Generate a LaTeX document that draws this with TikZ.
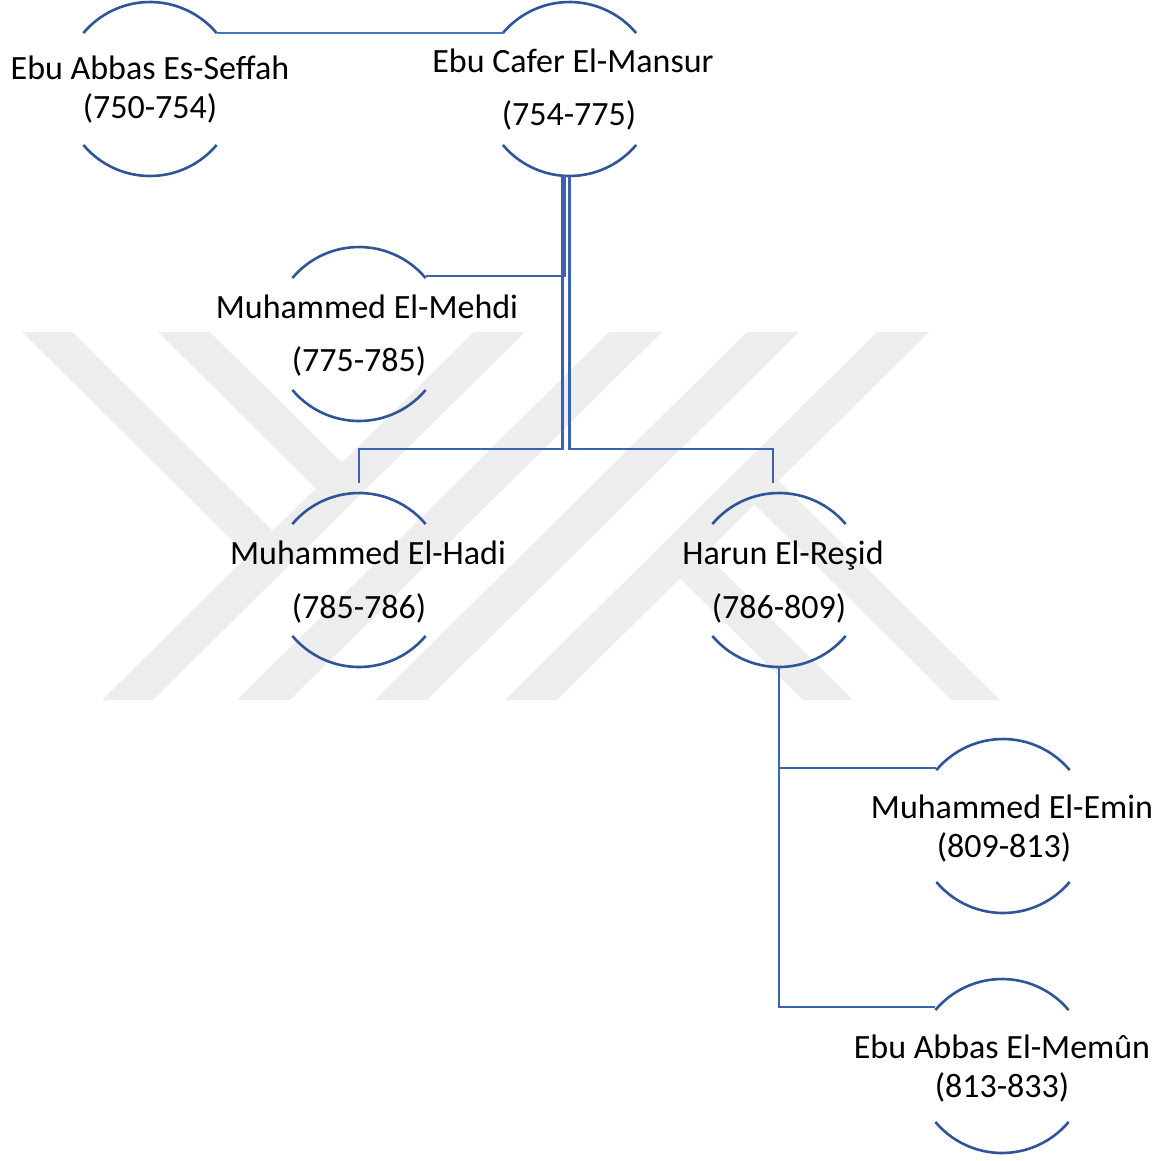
\documentclass[tikz,border=0pt]{standalone}
\usepackage{fontspec}
\setmainfont{Carlito}
\definecolor{lineblue}{RGB}{47,85,151}
\definecolor{connblue}{RGB}{58,98,178}
\definecolor{thinblue}{RGB}{68,114,196}
\definecolor{wm}{RGB}{237,237,237}
\begin{document}
\begin{tikzpicture}[x=1pt,y=1pt,
  wmark/.style={fill=wm,draw=none},
  person/.style={circle,draw=none,minimum size=174pt,inner sep=0pt,outer sep=0pt},
  arcline/.style={draw=lineblue,line width=2.6pt},
  conn/.style={draw=connblue,line width=2.7pt},
  thinconn/.style={draw=thinblue,line width=1.5pt},
  txt/.style={font=\fontsize{34}{40}\selectfont,inner sep=0pt,anchor=base,text=black}]
\useasboundingbox (0,0) rectangle (1173,-1160);
% watermark
\fill[wmark] (474,-332) -- (525,-332) -- (153,-700) -- (102,-700) -- cycle;
\fill[wmark] (609,-332) -- (662,-332) -- (290,-700) -- (237,-700) -- cycle;
\fill[wmark] (747,-332) -- (799,-332) -- (427,-700) -- (375,-700) -- cycle;
\fill[wmark] (877,-332) -- (929,-332) -- (557,-700) -- (505,-700) -- cycle;
\fill[wmark] (22,-332) -- (72,-332) -- (272.8,-530.8) -- (247.8,-555.6) -- cycle;
\fill[wmark] (158,-332) -- (210,-332) -- (341.8,-462.5) -- (315.8,-488.3) -- cycle;
\fill[wmark] (803,-700) -- (853,-700) -- (705,-553.5) -- (680,-578.2) -- cycle;
\fill[wmark] (952,-700) -- (1000,-700) -- (778.5,-480.7) -- (754.5,-504.5) -- cycle;
% persons
\node[person] (seffah) at (150,-89) {};
\node[person] (mansur) at (569.5,-89) {};
\node[person] (mehdi) at (359,-334) {};
\node[person] (hadi) at (359,-580) {};
\node[person] (resid) at (779,-580) {};
\node[person] (emin) at (1003,-826) {};
\node[person] (memun) at (1002,-1066) {};
\foreach \n in {seffah,mansur,mehdi,hadi,resid,emin,memun}{
  \draw[arcline] (\n.40) arc[start angle=40,end angle=140,radius=87pt];
  \draw[arcline] (\n.220) arc[start angle=220,end angle=320,radius=87pt];
}
% connectors
\coordinate (bus) at (0,-449);
\coordinate (htop) at ([yshift=10pt]hadi.north);
\coordinate (rtop) at ([xshift=-6pt,yshift=10pt]resid.north);
\draw[thinconn] (seffah.40) -- (mansur.140);
\draw[conn] ([xshift=-5pt]mansur.south) |- ([yshift=2pt]mehdi.40);
\draw[conn] ([xshift=-7pt]mansur.south) |- (htop |- bus) -- (htop);
\draw[conn] (mansur.south) |- (rtop |- bus) -- (rtop);
\draw[conn] (resid.south) |- ([yshift=2pt]emin.140);
\draw[conn] (resid.south) |- ([yshift=3pt]memun.140);
% texts
\node[txt] (seffahN) at (150,-79) {Ebu Abbas Es-Seffah};
\node[txt] (seffahY) at (150,-118) {(750-754)};
\node[txt] (mansurN) at (573,-72) {Ebu Cafer El-Mansur};
\node[txt] (mansurY) at (569,-125) {(754-775)};
\node[txt] (mehdiN) at (367,-318) {Muhammed El-Mehdi};
\node[txt] (mehdiY) at (359,-371) {(775-785)};
\node[txt] (hadiN) at (368,-564) {Muhammed El-Hadi};
\node[txt] (hadiY) at (359,-618) {(785-786)};
\node[txt] (residN) at (783,-564) {Harun El-Reşid};
\node[txt] (residY) at (779,-618) {(786-809)};
\node[txt] (eminN) at (1012,-818) {Muhammed El-Emin};
\node[txt] (eminY) at (1004,-857) {(809-813)};
\node[txt] (memunN) at (1002,-1058) {Ebu Abbas El-Memûn};
\node[txt] (memunY) at (1002,-1097) {(813-833)};
\end{tikzpicture}
\end{document}
